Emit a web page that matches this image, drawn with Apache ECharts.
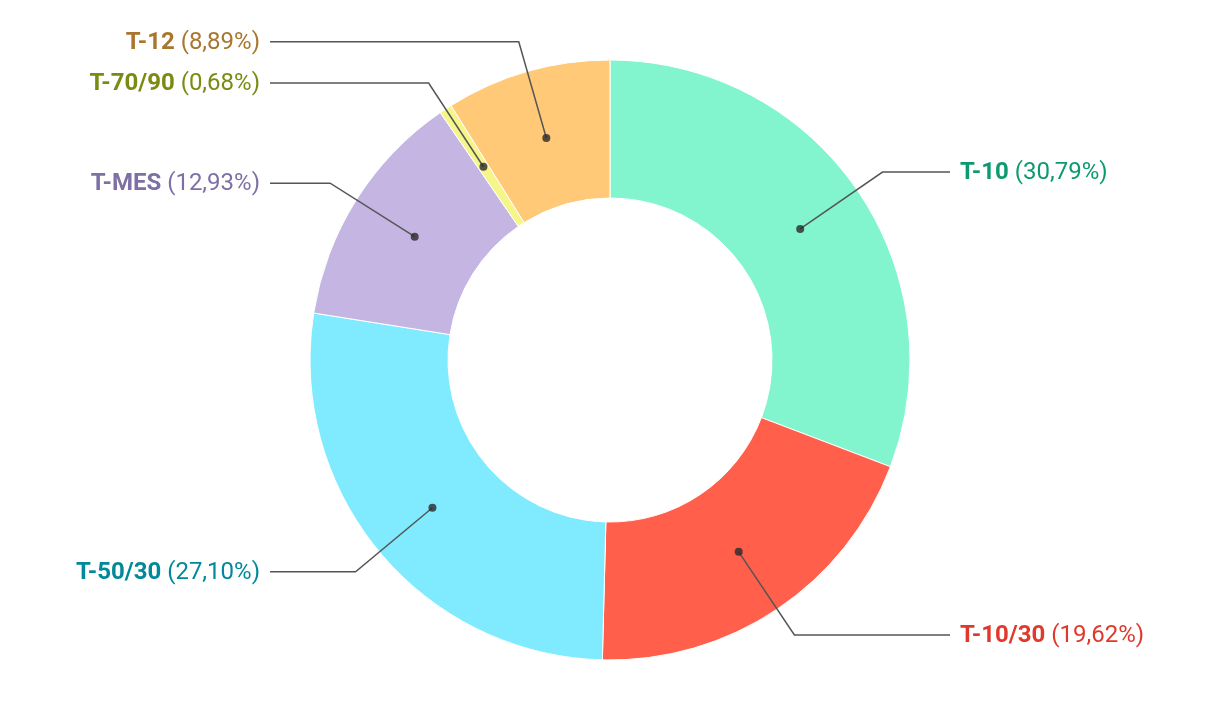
<!DOCTYPE html>
<html><head><meta charset="utf-8">
<script src="https://cdn.jsdelivr.net/npm/echarts@6/dist/echarts.min.js"></script>
<style>html,body{margin:0;padding:0;background:#fff}#c{width:1220px;height:704px}</style>
</head><body><div id="c"></div>
<script>
var categories = ['T-10', 'T-10/30', 'T-50/30', 'T-MES', 'T-70/90', 'T-12'];
var values = [30.79, 19.62, 27.10, 12.93, 0.68, 8.89];
var sliceColors = ['#82f5cf', '#ff5f4b', '#80ebff', '#c5b5e2', '#f5f58a', '#ffc978'];
var labelColors = ['#0d9a70', '#e0392c', '#00899b', '#7e70a4', '#7b8a10', '#a8762c'];

var CX = 610, CY = 360, R_IN = 162, R_OUT = 300, R_MID = 231, LINE_END = 340, GAP = 10;

function fmt(v){ return v.toFixed(2).replace('.', ',') + '%'; }

var rich = {};
categories.forEach(function(c, i){
  rich['b' + i] = {fontFamily:'Roboto', fontWeight:'bold', fontSize:24, color:labelColors[i]};
  rich['p' + i] = {fontFamily:'Roboto', fontWeight:'normal', fontSize:24, color:labelColors[i]};
});

var donutData = categories.map(function(c, i){
  return {name:c, value:values[i], itemStyle:{color:sliceColors[i]}};
});
var labelData = categories.map(function(c, i){
  return {name:c, value:values[i]};
});

// dots at mid radius, angle = cumulative midpoint of each slice
var dots = [];
var cum = 0;
values.forEach(function(v){ dots.push([R_MID, cum + v / 2]); cum += v; });
var total = cum;

var option = {
  animation:false,
  polar:{center:[CX, CY], radius:R_OUT},
  angleAxis:{type:'value', min:0, max:total, startAngle:90, clockwise:true, show:false},
  radiusAxis:{type:'value', min:0, max:R_OUT, show:false},
  series:[
    {
      type:'pie', center:[CX, CY], radius:[R_IN, R_OUT], startAngle:90, clockwise:true,
      silent:true, label:{show:false}, labelLine:{show:false},
      itemStyle:{borderColor:'#fff', borderWidth:1},
      data:donutData, z:1
    },
    {
      type:'pie', center:[CX, CY], radius:[0, R_MID], startAngle:90, clockwise:true,
      silent:true,
      itemStyle:{color:'rgba(0,0,0,0)', borderWidth:0},
      label:{
        show:true, position:'outside',
        formatter:function(p){ var i=p.dataIndex; return '{b'+i+'|'+p.name+' }{p'+i+'|('+fmt(p.value)+')}'; },
        rich:rich
      },
      labelLine:{show:true, length:100, length2:40, lineStyle:{color:'#555', width:1.5}},
      labelLayout:function(p){
        var pts = p.labelLinePoints;
        if (!pts) return {};
        var left = pts[1][0] < CX;
        var endX = left ? CX - LINE_END : CX + LINE_END;
        var y = pts[1][1];
        var newPts = [pts[0], pts[1], [endX, y]];
        return {
          x: left ? endX - GAP : endX + GAP,
          y: y + 1,
          align: left ? 'right' : 'left',
          verticalAlign: 'middle',
          labelLinePoints: newPts
        };
      },
      data:labelData, z:3
    },
    {
      type:'scatter', coordinateSystem:'polar', symbol:'circle', symbolSize:8,
      itemStyle:{color:'#2b2b2b'}, data:dots, z:4, silent:true
    }
  ]
};
echarts.init(document.getElementById('c'), null, {renderer:'canvas'}).setOption(option);
</script>
</body></html>
